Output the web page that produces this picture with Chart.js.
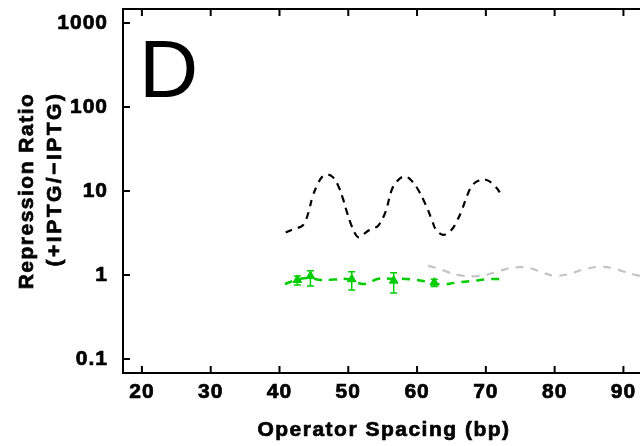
<!DOCTYPE html>
<html>
<head>
<meta charset="utf-8">
<script src="https://cdn.jsdelivr.net/npm/chart.js@4"></script>
<style>
  html, body { margin: 0; padding: 0; background: #fff; overflow: hidden; }
  #wrap { width: 640px; height: 446px; overflow: hidden; }
  canvas { display: block; }
</style>
</head>
<body>
<div id="wrap"><canvas id="chart" width="648" height="446" style="width:648px;height:446px"></canvas></div>
<script>
// tick labels
const xTicks = [20, 30, 40, 50, 60, 70, 80, 90];
const yTicks = [0.1, 1, 10, 100, 1000];

// black dashed model curve
const blackX = [40.9, 42.0, 43.1, 43.6, 44.2, 44.8, 45.5, 46.2, 47.0, 47.8, 48.6, 49.2, 49.8, 50.4, 51.0, 51.5,
  52.2, 53.0, 53.7, 54.4, 55.4, 56.3, 57.0, 57.8, 58.5, 59.3, 60.2, 61.0, 61.6, 62.2, 62.8, 63.8,
  64.5, 65.2, 65.8, 66.4, 67.4, 68.1, 68.9, 70.0, 71.2, 72.5];
const blackY = [3.2, 3.5, 3.75, 4.1, 5.5, 8.5, 11.8, 14.7, 15.7, 14.5, 11.2, 8.2, 5.6, 4.0, 3.1, 2.8,
  3.05, 3.4, 3.6, 3.9, 5.6, 10.2, 12.8, 14.7, 14.7, 13.0, 10.2, 7.6, 5.9, 4.4, 3.4, 3.0,
  3.2, 3.6, 4.4, 5.6, 9.3, 11.8, 13.2, 13.6, 11.7, 8.5];

// grey dashed curve
const greyX = [61.6, 63.0, 64.5, 66.0, 68.0, 70.0, 72.0, 74.3, 76.5, 78.0, 80.0, 82.0, 84.0, 86.4, 88.5, 90.0, 92.0, 93.0];
const greyY = [1.28, 1.2, 1.08, 1.0, 0.96, 1.0, 1.12, 1.23, 1.2, 1.08, 0.98, 1.02, 1.15, 1.25, 1.2, 1.1, 0.99, 0.97];

// green dashed curve
const greenX = [40.8, 42.6, 44.3, 46.0, 47.9, 50.0, 52.2, 54.4, 56.3, 59.0, 61.1, 63.5, 65.7, 68.1, 70.3, 72.6];
const greenY = [0.78, 0.88, 0.92, 0.87, 0.88, 0.89, 0.78, 0.9, 0.9, 0.89, 0.84, 0.77, 0.81, 0.85, 0.89, 0.89];

// green measured points with error bars
const ptsX = [42.6, 44.5, 50.5, 56.6, 62.5];
const ptsY = [0.87, 0.97, 0.89, 0.855, 0.81];
const ptsLo = [0.76, 0.74, 0.66, 0.61, 0.73];
const ptsHi = [0.97, 1.125, 1.095, 1.065, 0.89];

const green = '#00cc00';
const toXY = (xs, ys) => xs.map((x, i) => ({ x: x, y: ys[i] }));

const noPad = s => { s.paddingTop = 0; s.paddingBottom = 0; s.paddingLeft = 0; s.paddingRight = 0; };

// draw text a little heavier, like the original
const heavyText = (ctx, txt, x, y) => {
  ctx.lineWidth = 0.7;
  ctx.strokeStyle = '#000';
  ctx.strokeText(txt, x, y);
  ctx.fillText(txt, x, y);
};

const frame = {
  id: 'frame',
  beforeDraw(chart) {
    chart.ctx.letterSpacing = '1px';
  },
  afterDatasetsDraw(chart) {
    const ctx = chart.ctx;
    const xs = chart.scales.x, ys = chart.scales.y;
    // error bars
    ctx.save();
    ctx.strokeStyle = green;
    ctx.lineWidth = 1.5;
    ptsX.forEach((v, i) => {
      const px = xs.getPixelForValue(v);
      const lo = ys.getPixelForValue(ptsLo[i]);
      const hi = ys.getPixelForValue(ptsHi[i]);
      ctx.beginPath();
      ctx.moveTo(px, lo); ctx.lineTo(px, hi);
      ctx.moveTo(px - 3.5, lo); ctx.lineTo(px + 3.5, lo);
      ctx.moveTo(px - 3.5, hi); ctx.lineTo(px + 3.5, hi);
      ctx.stroke();
    });
    ctx.restore();
  },
  afterDraw(chart) {
    const ctx = chart.ctx;
    const xs = chart.scales.x, ys = chart.scales.y;
    const a = chart.chartArea;
    ctx.save();
    ctx.strokeStyle = '#000';
    ctx.lineWidth = 2;
    // top border
    ctx.beginPath();
    ctx.moveTo(a.left - 1, a.top);
    ctx.lineTo(a.right + 5, a.top);
    ctx.stroke();
    // inward ticks
    ctx.beginPath();
    xTicks.forEach(v => {
      const px = xs.getPixelForValue(v);
      ctx.moveTo(px, a.bottom); ctx.lineTo(px, a.bottom - 7);
      ctx.moveTo(px, a.top); ctx.lineTo(px, a.top + 7);
    });
    yTicks.forEach(v => {
      const py = ys.getPixelForValue(v);
      ctx.moveTo(a.left, py); ctx.lineTo(a.left + 7, py);
    });
    ctx.stroke();

    ctx.fillStyle = '#000';
    // panel letter
    ctx.letterSpacing = '0px';
    ctx.font = '82px "Liberation Sans", Arial, sans-serif';
    ctx.textAlign = 'left';
    ctx.textBaseline = 'alphabetic';
    ctx.fillText('D', 139, 97);

    // x title
    ctx.letterSpacing = '1.5px';
    ctx.font = 'bold 21px "Liberation Sans", Arial, sans-serif';
    ctx.textAlign = 'center';
    heavyText(ctx, 'Operator Spacing (bp)', 384, 436);

    // y title
    ctx.save();
    ctx.translate(33, 191);
    ctx.rotate(-Math.PI / 2);
    heavyText(ctx, 'Repression Ratio', 0, 0);
    ctx.restore();
    ctx.save();
    ctx.translate(61, 179);
    ctx.rotate(-Math.PI / 2);
    ctx.letterSpacing = '2.5px';
    heavyText(ctx, '(+IPTG/\u2212IPTG)', 0, 0);
    ctx.restore();
    ctx.restore();
  }
};

const tickFont = { family: '"Liberation Sans", Arial, sans-serif', size: 21, weight: 'bold' };

new Chart(document.getElementById('chart'), {
  type: 'line',
  data: {
    datasets: [
      {
        data: toXY(blackX, blackY),
        borderColor: '#000',
        borderWidth: 2.2,
        borderDash: [7, 6],
        pointRadius: 0,
        tension: 0.4,
        fill: false
      },
      {
        data: toXY(greyX, greyY),
        borderColor: '#c4c4c4',
        borderWidth: 2.2,
        borderDash: [8, 7],
        pointRadius: 0,
        tension: 0.4,
        fill: false
      },
      {
        data: toXY(greenX, greenY),
        borderColor: green,
        borderWidth: 2.5,
        borderDash: [8, 7],
        pointRadius: 0,
        tension: 0.4,
        fill: false
      },
      {
        data: toXY(ptsX, ptsY),
        showLine: false,
        pointStyle: 'triangle',
        pointRadius: 5,
        backgroundColor: green,
        borderColor: green,
        borderWidth: 1
      }
    ]
  },
  options: {
    responsive: false,
    animation: false,
    layout: { padding: { top: 9, right: 3, left: 0, bottom: 0 } },
    plugins: { legend: { display: false }, tooltip: { enabled: false } },
    scales: {
      x: {
        type: 'linear',
        min: 17.25,
        max: 92.7,
        afterBuildTicks: s => { s.ticks = xTicks.map(v => ({ value: v })); },
        afterFit: s => { s.height = 73; noPad(s); },
        grid: { display: false, drawTicks: false },
        border: { display: true, color: '#000', width: 2 },
        ticks: { font: tickFont, color: '#000', textStrokeColor: '#000', textStrokeWidth: 0.7,
          padding: 7, maxRotation: 0, autoSkip: false }
      },
      y: {
        type: 'logarithmic',
        min: 0.068,
        max: 1466,
        afterBuildTicks: s => { s.ticks = yTicks.map(v => ({ value: v })); },
        afterFit: s => { s.width = 123; noPad(s); },
        grid: { display: false, drawTicks: false },
        border: { display: true, color: '#000', width: 2 },
        ticks: { font: tickFont, color: '#000', textStrokeColor: '#000', textStrokeWidth: 0.7,
          padding: 15, autoSkip: false, callback: v => String(v) }
      }
    }
  },
  plugins: [frame]
});
</script>
</body>
</html>
